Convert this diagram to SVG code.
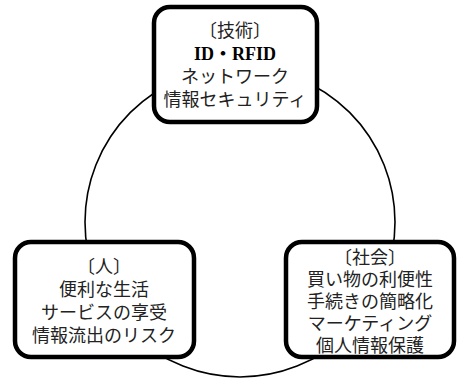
<svg xmlns="http://www.w3.org/2000/svg" width="458" height="378" viewBox="0 0 458 378">
<style>
.box{fill:#fff;stroke:#000;stroke-width:4.5}
.t{font-family:"Liberation Serif","Noto Sans CJK JP",serif;font-size:18px;fill:#222;text-anchor:middle}
.b{font-weight:bold;fill:#000}
</style>
<rect width="458" height="378" fill="#fff"/>
<g id="connectors">
<circle cx="240" cy="222" r="155" fill="none" stroke="#000" stroke-width="1.6"/>
</g>
<g id="tech">
<rect class="box" x="154" y="7" width="163" height="115" rx="16"/>
<text class="t" x="235" y="37">〔技術〕</text>
<text class="t b" x="235" y="60">ID・RFID</text>
<text class="t" x="235" y="83">ネットワーク</text>
<text class="t" x="235" y="106">情報セキュリティ</text>
</g>
<g id="people">
<rect class="box" x="15" y="242" width="179" height="115" rx="16"/>
<text class="t" x="104" y="273">〔人〕</text>
<text class="t" x="104" y="296">便利な生活</text>
<text class="t" x="104" y="319">サービスの享受</text>
<text class="t" x="104" y="342">情報流出のリスク</text>
</g>
<g id="society">
<rect class="box" x="286" y="242" width="168" height="115" rx="16"/>
<text class="t" x="370" y="264">〔社会〕</text>
<text class="t" x="370" y="286">買い物の利便性</text>
<text class="t" x="370" y="308">手続きの簡略化</text>
<text class="t" x="370" y="330">マーケティング</text>
<text class="t" x="370" y="352">個人情報保護</text>
</g>
</svg>
